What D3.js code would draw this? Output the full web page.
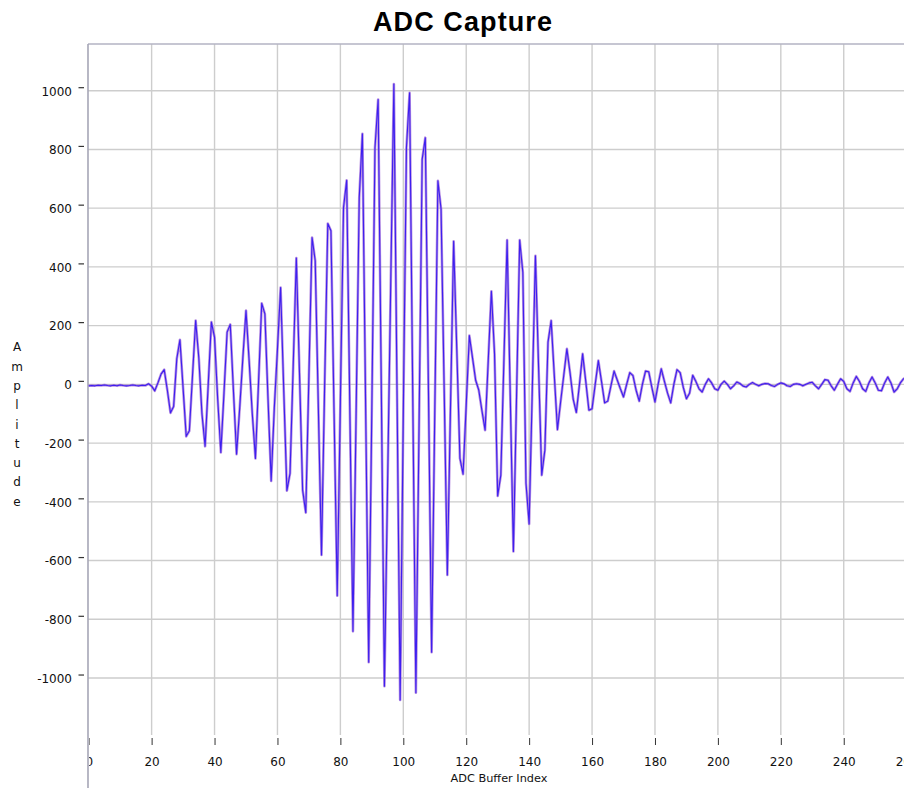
<!DOCTYPE html>
<html>
<head>
<meta charset="utf-8">
<script src="https://cdn.jsdelivr.net/npm/d3@7/dist/d3.min.js"></script>
<style>
html,body{margin:0;padding:0;background:#fff;overflow:hidden;}
svg{display:block;}
</style>
</head>
<body>
<svg id="chart" width="904" height="788"></svg>
<script>
// ---- data ----
const chartTitle = "ADC Capture";
const xAxisTitle = "ADC Buffer Index";
const yAxisTitle = "Amplitude";
const xTickValues = [0,20,40,60,80,100,120,140,160,180,200,220,240,260];
const yTickValues = [-1000,-800,-600,-400,-200,0,200,400,600,800,1000];
const amplitude = [
  -5,-4,-5,-3,-4,-2,-4,-5,-3,-5,
  -2,-4,-5,-4,-2,-4,-5,-3,-4,2,
  -6,-22,5,35,50,-20,-97,-75,87,152,
  -12,-177,-158,30,217,90,-100,-211,0,212,
  160,-50,-232,-30,178,204,-20,-238,-80,90,
  251,80,-100,-252,10,276,240,-50,-329,-80,
  120,330,-20,-362,-303,60,430,40,-360,-437,
  30,500,421,-80,-581,0,548,523,-100,-720,
  -60,602,695,-80,-841,-100,636,853,-50,-946,
  -80,806,970,0,-1028,-345,340,1023,-20,-1075,
  -100,806,993,-30,-1050,-150,766,840,-20,-912,
  -100,693,597,-20,-649,-80,487,120,-252,-306,
  -70,166,90,14,-20,-90,-156,80,317,104,
  -380,-309,90,491,-40,-569,-40,491,381,-337,
  -475,-20,438,60,-309,-224,144,217,30,-154,
  -60,30,121,40,-50,-96,0,104,10,-88,
  -83,0,81,10,-63,-57,-5,45,15,-15,
  -43,0,40,30,-20,-57,0,45,43,-10,
  -60,0,53,10,-30,-63,0,50,40,-10,
  -49,-30,31,10,-15,-26,0,19,5,-15,
  -20,0,11,0,-15,-5,8,3,-6,-9,
  0,6,0,-5,0,3,2,-4,-7,0,
  5,2,-5,-7,0,2,0,-5,0,5,
  7,-5,-15,0,16,14,-5,-20,0,19,
  10,-15,-24,5,27,10,-15,-24,5,25,
  5,-20,-22,5,25,5,-26,-15,5,19,
  25
];

// ---- layout ----
const W = 904, H = 788;
const plotLeft = 88.7, plotTop = 44, plotBottom = 735;
const pxPerIndex = 3.146;

const svg = d3.select("#chart");

const x = d3.scaleLinear().domain([0, 270]).range([plotLeft, plotLeft + 270 * pxPerIndex]);
const y = d3.scaleLinear().domain([-1194, 1159]).range([plotBottom, plotTop]);

const defs = svg.append("defs");
defs.append("clipPath").attr("id","xlabClip")
  .append("rect").attr("x", 89.2).attr("y", 0).attr("width", W).attr("height", H);
defs.append("clipPath").attr("id","plotClip")
  .append("rect").attr("x", 88).attr("y", plotTop).attr("width", W).attr("height", plotBottom - plotTop + 10);

// grid
const grid = svg.append("g");
grid.selectAll("line.vg").data(xTickValues.filter(d => d > 0)).join("line")
  .attr("x1", d => x(d)).attr("x2", d => x(d))
  .attr("y1", plotTop).attr("y2", plotBottom)
  .attr("stroke", "#cdcdcd").attr("stroke-width", 1.4);
grid.selectAll("line.hg").data(yTickValues).join("line")
  .attr("x1", 88).attr("x2", W)
  .attr("y1", d => y(d)).attr("y2", d => y(d))
  .attr("stroke", "#cdcdcd").attr("stroke-width", 1.4);

// frame
svg.append("line").attr("x1", 88).attr("x2", W).attr("y1", plotTop).attr("y2", plotTop)
  .attr("stroke", "#b3b3c3").attr("stroke-width", 1.6);

// x axis ticks + labels
const xAxis = d3.axisBottom(x).tickValues(xTickValues).tickSize(7).tickPadding(12).tickFormat(d => String(d));
const xg = svg.append("g").attr("transform", `translate(0,${plotBottom + 3})`)
  .attr("clip-path", "url(#xlabClip)").call(xAxis);
xg.select(".domain").remove();
xg.selectAll(".tick line").attr("stroke", "#333").attr("stroke-width", 1);
xg.selectAll(".tick text").attr("fill", "#111")
  .style("font-family", "'DejaVu Sans', sans-serif").style("font-size", "12px");

// y axis ticks + labels
const yAxis = d3.axisLeft(y).tickValues(yTickValues).tickSize(0).tickPadding(0).tickFormat(d => String(d));
const yg = svg.append("g").attr("transform", `translate(72,0)`).call(yAxis);
yg.select(".domain").remove();
yg.selectAll(".tick text").attr("fill", "#111").attr("dy", "0.36em")
  .style("font-family", "'DejaVu Sans', sans-serif").style("font-size", "12px");
yg.selectAll(".tick").append("line")
  .attr("x1", 6.5).attr("x2", 12).attr("y1", -3.5).attr("y2", -3.5)
  .attr("stroke", "#333").attr("stroke-width", 1.2);

// left axis line
svg.append("line").attr("x1", 88).attr("x2", 88).attr("y1", plotTop).attr("y2", H)
  .attr("stroke", "#a6a6b6").attr("stroke-width", 1.6);

// data lines
const line = d3.line().x((d, i) => x(i)).y(d => y(d));
const lines = svg.append("g").attr("clip-path", "url(#plotClip)");
lines.append("path").datum(amplitude).attr("d", line)
  .attr("fill", "none").attr("stroke", "#9a62d4").attr("stroke-opacity", 0.7)
  .attr("stroke-width", 2.6).attr("stroke-linejoin", "round");
lines.append("path").datum(amplitude).attr("d", line)
  .attr("fill", "none").attr("stroke", "#3d1ff0").attr("stroke-width", 1.1)
  .attr("stroke-linejoin", "round");

// titles
svg.append("text").attr("x", 463).attr("y", 31).attr("text-anchor", "middle")
  .style("font-family", "'Liberation Sans', Arial, sans-serif").style("font-weight", "bold")
  .style("font-size", "27px").style("letter-spacing", "1.1px").attr("fill", "#000")
  .text(chartTitle);

svg.append("text").attr("x", 499).attr("y", 782).attr("text-anchor", "middle")
  .style("font-family", "'DejaVu Sans', sans-serif").style("font-size", "11.3px").attr("fill", "#111")
  .text(xAxisTitle);

const yl = svg.append("g");
yl.selectAll("text").data(Array.from(yAxisTitle)).join("text")
  .attr("x", 17).attr("y", (d, i) => 347 + i * 19.3).attr("dy", "0.36em")
  .attr("text-anchor", "middle")
  .style("font-family", "'DejaVu Sans', sans-serif").style("font-size", "12px").attr("fill", "#111")
  .text(d => d);
</script>
</body>
</html>
